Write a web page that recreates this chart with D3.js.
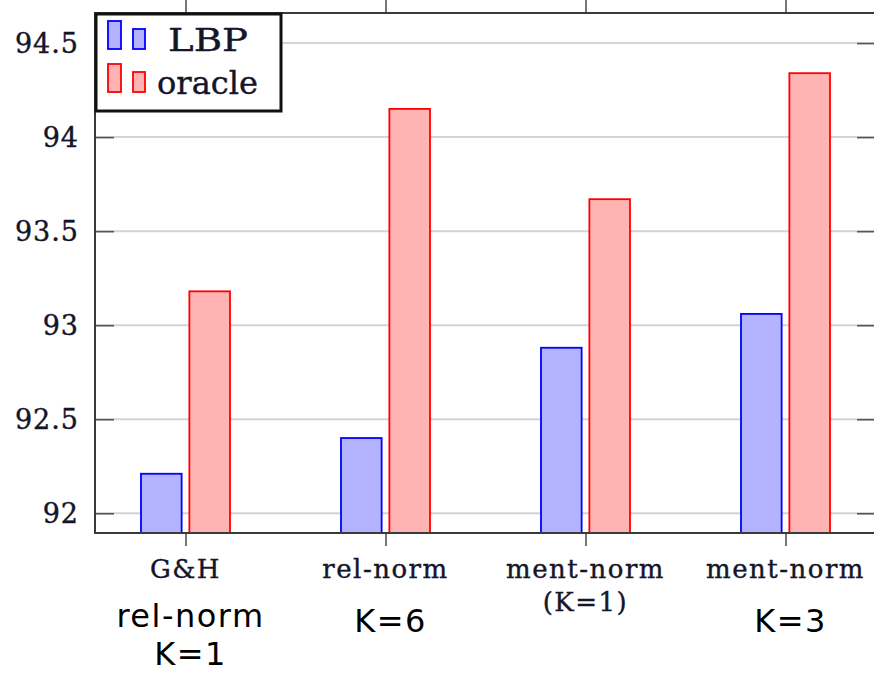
<!DOCTYPE html>
<html>
<head>
<meta charset="utf-8">
<script src="https://cdn.jsdelivr.net/npm/d3@7"></script>
<style>
  body { margin: 0; background: #fff; }
  svg { display: block; overflow: hidden; }
</style>
</head>
<body>
<div id="container"></div>
<script>
// ---------- DATA ----------
const categories = ['G&H', 'rel-norm', 'ment-norm (K=1)', 'ment-norm'];
const categoryLines = [['G&H'], ['rel-norm'], ['ment-norm', '(K=1)'], ['ment-norm']];
const seriesNames = ['LBP', 'oracle'];
const lbpValues = [92.21, 92.40, 92.88, 93.06];
const oracleValues = [93.18, 94.15, 93.67, 94.34];
const yTicks = [92, 92.5, 93, 93.5, 94, 94.5];
const yTickLabels = ['92', '92.5', '93', '93.5', '94', '94.5'];
const notes = [['rel-norm', 'K=1'], ['K=6'], [], ['K=3']];

// ---------- DIMENSIONS ----------
const width = 874;
const height = 674;
const marginTop = 13;
const marginLeft = 95;
const plotRight = 876;
const plotBottom = 533;

const fills = { LBP: '#b3b3ff', oracle: '#ffb3b3' };
const strokes = { LBP: '#0000ff', oracle: '#ff0000' };
const textColor = '#15152a';

const svg = d3.create('svg')
    .attr('width', width)
    .attr('height', height);

// ---------- SCALES ----------
const x = d3.scalePoint()
    .domain(categories)
    .range([marginLeft, plotRight])
    .padding(0.4525);

const xSub = d3.scaleBand()
    .domain(seriesNames)
    .range([-44.5, 44.5])
    .paddingInner(0.16);

const y = d3.scaleLinear()
    .domain([91.895, 94.66])
    .range([plotBottom, marginTop]);

// ---------- GRID ----------
svg.append('g')
    .selectAll('line')
    .data(yTicks)
    .join('line')
    .attr('x1', marginLeft)
    .attr('x2', plotRight)
    .attr('y1', d => y(d))
    .attr('y2', d => y(d))
    .attr('stroke', '#d4d4d4')
    .attr('stroke-width', 2);

// ---------- BARS ----------
const rows = categories.map((c, i) => ({
    key: c,
    values: [
        { series: 'LBP', value: lbpValues[i] },
        { series: 'oracle', value: oracleValues[i] }
    ]
}));

svg.append('g')
    .selectAll('g')
    .data(rows)
    .join('g')
    .attr('transform', d => `translate(${x(d.key)},0)`)
    .selectAll('rect')
    .data(d => d.values)
    .join('rect')
    .attr('x', d => xSub(d.series))
    .attr('width', xSub.bandwidth())
    .attr('y', d => y(d.value))
    .attr('height', d => y.range()[0] - y(d.value))
    .attr('fill', d => fills[d.series])
    .attr('stroke', d => strokes[d.series])
    .attr('stroke-width', 1.8);

// ---------- AXES ----------
const axisColor = '#3a3a3a';

// y ticks (inside, both sides)
const yAxisL = svg.append('g')
    .attr('transform', `translate(${marginLeft},0)`)
    .call(d3.axisLeft(y).tickValues(yTicks).tickFormat((d, i) => yTickLabels[i]).tickSize(-19).tickPadding(16));
const yAxisR = svg.append('g')
    .attr('transform', `translate(${plotRight},0)`)
    .call(d3.axisRight(y).tickValues(yTicks).tickFormat('').tickSize(-19));

// x ticks (outside, top and bottom)
const xAxisB = svg.append('g')
    .attr('transform', `translate(0,${plotBottom})`)
    .call(d3.axisBottom(x).tickSize(13).tickFormat(''));
const xAxisT = svg.append('g')
    .attr('transform', `translate(0,${marginTop})`)
    .call(d3.axisTop(x).tickSize(14).tickFormat(''));

[yAxisL, yAxisR, xAxisB, xAxisT].forEach(a => {
    a.select('.domain').remove();
    a.selectAll('.tick line').attr('stroke', '#555').attr('stroke-width', 1.6);
});

yAxisL.selectAll('text')
    .attr('font-family', 'DejaVu Serif')
    .attr('font-size', 27)
    .attr('letter-spacing', 1)
    .attr('fill', textColor)
    .attr('stroke', textColor)
    .attr('stroke-width', 0.4)
    .attr('dy', '0.36em');

// frame
svg.append('rect')
    .attr('x', marginLeft)
    .attr('y', marginTop)
    .attr('width', plotRight - marginLeft)
    .attr('height', plotBottom - marginTop)
    .attr('fill', 'none')
    .attr('stroke', axisColor)
    .attr('stroke-width', 2);

// x category labels
const xLabels = svg.append('g')
    .attr('font-family', 'DejaVu Serif')
    .attr('font-size', 26)
    .attr('letter-spacing', 1.5)
    .attr('fill', textColor)
    .attr('stroke', textColor)
    .attr('stroke-width', 0.4)
    .attr('text-anchor', 'middle');

categories.forEach((c, i) => {
    xLabels.append('text')
        .attr('x', x(c))
        .attr('y', 578)
        .selectAll('tspan')
        .data(categoryLines[i])
        .join('tspan')
        .attr('x', x(c))
        .attr('dy', (d, j) => j === 0 ? 0 : 33)
        .text(d => d);
});

// overlay notes (sans), one text per line
const noteG = svg.append('g')
    .attr('font-family', 'DejaVu Sans')
    .attr('font-size', 32)
    .attr('letter-spacing', 1.5)
    .attr('fill', '#000')
    .attr('text-anchor', 'middle');

categories.forEach((c, i) => {
    notes[i].forEach((line, j) => {
        noteG.append('text')
            .attr('x', x(c) + 5)
            .attr('y', notes[i].length > 1 ? 627 + j * 38 : 632)
            .text(line);
    });
});

// ---------- LEGEND ----------
const legend = svg.append('g');
legend.append('rect')
    .attr('x', marginLeft + 1)
    .attr('y', marginTop + 1)
    .attr('width', 185)
    .attr('height', 97)
    .attr('fill', '#fff')
    .attr('stroke', '#111')
    .attr('stroke-width', 3);

const legendTextWidth = { LBP: 80, oracle: 101 };

seriesNames.forEach((s, i) => {
    const g = legend.append('g')
        .attr('transform', `translate(0,${i * 43})`);
    g.append('rect')
        .attr('x', 108).attr('y', 21)
        .attr('width', 13).attr('height', 28)
        .attr('fill', fills[s]).attr('stroke', strokes[s]).attr('stroke-width', 1.8);
    g.append('rect')
        .attr('x', 133).attr('y', 29)
        .attr('width', 12).attr('height', 20)
        .attr('fill', fills[s]).attr('stroke', strokes[s]).attr('stroke-width', 1.8);
    g.append('text')
        .attr('x', s === 'LBP' ? 168 : 157)
        .attr('y', 51)
        .attr('font-family', 'DejaVu Serif')
        .attr('font-size', 32)
        .attr('textLength', legendTextWidth[s])
        .attr('lengthAdjust', 'spacingAndGlyphs')
        .attr('fill', textColor)
        .attr('stroke', textColor)
        .attr('stroke-width', 0.4)
        .text(s);
});

document.getElementById('container').append(svg.node());
</script>
</body>
</html>
